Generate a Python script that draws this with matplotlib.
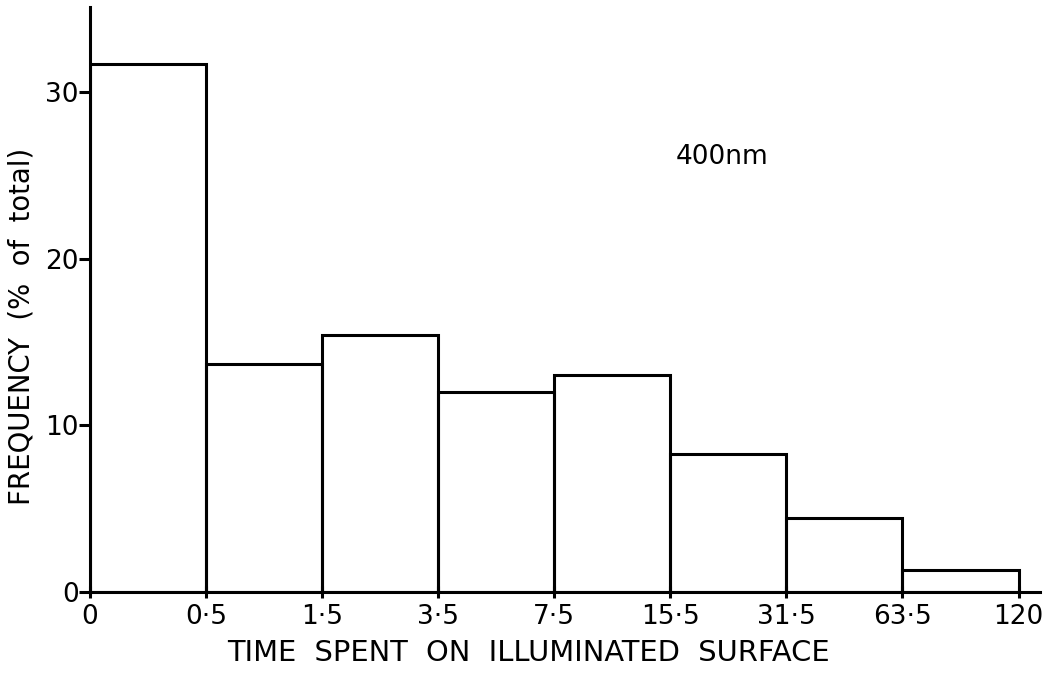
import matplotlib
matplotlib.use("Agg")
import matplotlib.pyplot as plt

# Bin edges (time spent, labels) and frequency per bin (% of total)
bin_edges = ["0", "0·5", "1·5", "3·5", "7·5", "15·5", "31·5", "63·5", "120"]
frequency = [31.7, 13.65, 15.4, 12.0, 13.0, 8.25, 4.4, 1.3]
y_ticks = [0, 10, 20, 30]

plt.rcParams["font.family"] = ["DejaVu Sans"]

fig = plt.figure(figsize=(10.5, 6.76), dpi=100)
ax = fig.add_axes([90 / 1050, 1 - 591.7 / 676, (1040 - 90) / 1050, (591.7 - 7) / 676])

lw = 2.2
positions = list(range(len(frequency)))
ax.bar(positions, frequency, width=1.0, align="edge", fill=False,
       edgecolor="black", linewidth=lw)

ax.set_xlim(0, 8.185)
ax.set_ylim(0, 35.1)

for s in ("top", "right"):
    ax.spines[s].set_visible(False)
for s in ("left", "bottom"):
    ax.spines[s].set_linewidth(lw)

ax.set_xticks(range(len(bin_edges)))
ax.set_xticklabels(bin_edges, fontsize=19)
ax.set_yticks(y_ticks)
ax.set_yticklabels([str(v) for v in y_ticks], fontsize=19)
ax.tick_params(axis="x", direction="inout", length=9, width=lw, pad=4)
ax.tick_params(axis="y", direction="out", length=8, width=lw, pad=0)

ax.set_xlabel("TIME  SPENT  ON  ILLUMINATED  SURFACE", fontsize=20.8,
              va="center")
ax.xaxis.set_label_coords(0.462, -0.105)
ax.set_ylabel("FREQUENCY  (%  of  total)", fontsize=19.8, va="center")
ax.yaxis.set_label_coords(-0.0716, 0.453)

ax.text(5.05, 26.1, "400nm", fontsize=19, ha="left", va="center")

fig.savefig("out.png", dpi=100)
